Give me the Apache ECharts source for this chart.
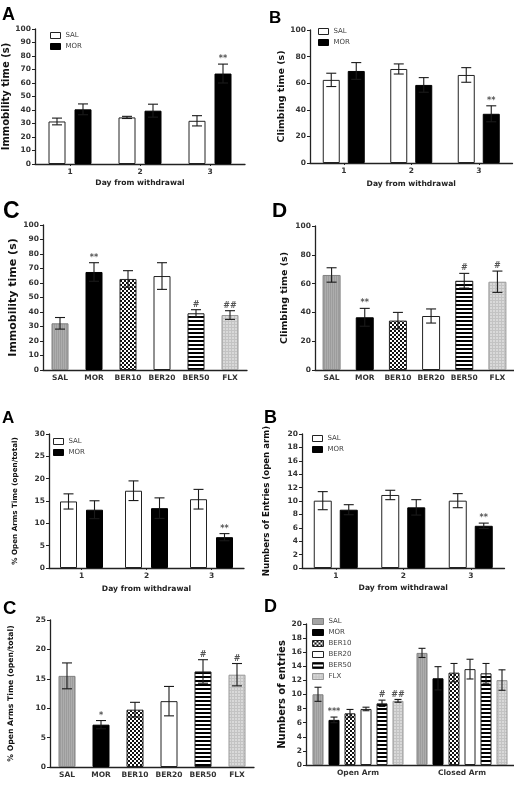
<!DOCTYPE html>
<html><head><meta charset="utf-8">
<script src="https://cdn.jsdelivr.net/npm/echarts@6/dist/echarts.min.js"></script>
<style>html,body{margin:0;padding:0;background:#fff}#c{width:514px;height:792px}</style>
</head><body><div id="c"></div><script>
// ---------- data ----------
const days = ['1', '2', '3'];
const drugGroups = ['SAL', 'MOR', 'BER10', 'BER20', 'BER50', 'FLX'];
const arms = ['Open Arm', 'Closed Arm'];

const fstImmSalMean = [31.5, 34.5, 32];
const fstImmSalErr = [2.5, 0.8, 3.8];
const fstImmMorMean = [40.5, 39.5, 67];
const fstImmMorErr = [4, 4.8, 7];
const fstImmMorSig = ['', '', '**'];

const fstClimbSalMean = [62.5, 70.7, 66.2];
const fstClimbSalErr = [5, 3.8, 5.5];
const fstClimbMorMean = [69.2, 58.7, 37];
const fstClimbMorErr = [6.3, 5.5, 6];
const fstClimbMorSig = ['', '', '**'];

const treatImmMean = [32.2, 67.6, 62.8, 64.8, 39.1, 37.9];
const treatImmErr = [4, 6.4, 5.7, 9.2, 2.5, 3];
const treatImmSig = ['', '**', '', '', '#', '##'];

const treatClimbMean = [66, 36.6, 34.3, 37.5, 62, 61.3];
const treatClimbErr = [5, 6.2, 5.7, 4.9, 5.1, 7.4];
const treatClimbSig = ['', '**', '', '', '#', '#'];

const epmTimeSalMean = [14.9, 17.3, 15.4];
const epmTimeSalErr = [1.7, 2.2, 2.2];
const epmTimeMorMean = [13.05, 13.4, 6.9];
const epmTimeMorErr = [2, 2.3, 0.8];
const epmTimeMorSig = ['', '', '**'];

const epmEntrySalMean = [10.05, 10.9, 10.05];
const epmEntrySalErr = [1.35, 0.7, 1.05];
const epmEntryMorMean = [8.7, 9.05, 6.3];
const epmEntryMorErr = [0.75, 1.15, 0.4];
const epmEntryMorSig = ['', '', '**'];

const treatOpenTimeMean = [15.5, 7.2, 9.75, 11.2, 16.25, 15.7];
const treatOpenTimeErr = [2.2, 0.7, 1.25, 2.5, 2, 1.9];
const treatOpenTimeSig = ['', '*', '', '', '#', '#'];

const entriesOpenMean = [10.03, 6.4, 7.33, 7.95, 8.75, 9.1];
const entriesOpenErr = [1.0, 0.4, 0.55, 0.25, 0.45, 0.2];
const entriesOpenSig = ['', '***', '', '', '#', '##'];
const entriesClosedMean = [15.9, 12.3, 13.1, 13.6, 13.0, 12.05];
const entriesClosedErr = [0.65, 1.65, 1.3, 1.4, 1.4, 1.45];

// ---------- styles ----------
const FONT = 'DejaVu Sans';
function pat(w, h, draw) {
  const c = document.createElement('canvas'); c.width = w; c.height = h;
  draw(c.getContext('2d')); return { image: c, repeat: 'repeat' };
}
const salFill = pat(2, 2, g => { g.fillStyle = '#adadad'; g.fillRect(0, 0, 2, 2); g.fillStyle = '#9c9c9c'; g.fillRect(0, 0, 1, 2); });
const ber10Fill = pat(4, 4, g => { g.fillStyle = '#fff'; g.fillRect(0, 0, 4, 4); g.fillStyle = '#111'; g.fillRect(0, 0, 2, 2); g.fillRect(2, 2, 2, 2); });
const ber50Fill = pat(4, 4, g => { g.fillStyle = '#fff'; g.fillRect(0, 0, 4, 4); g.fillStyle = '#000'; g.fillRect(0, 0, 4, 2); });
const flxFill = pat(3, 3, g => { g.fillStyle = '#d9d9d9'; g.fillRect(0, 0, 3, 3); g.fillStyle = '#c3c3c3'; g.fillRect(0, 0, 3, 1); g.fillRect(0, 0, 1, 3); });
const drugStyles = [
  { color: salFill, borderColor: '#808080', borderWidth: 1 },
  { color: '#000', borderColor: '#000', borderWidth: 1 },
  { color: ber10Fill, borderColor: '#222', borderWidth: 1 },
  { color: '#fff', borderColor: '#222', borderWidth: 1 },
  { color: ber50Fill, borderColor: '#222', borderWidth: 1 },
  { color: flxFill, borderColor: '#999', borderWidth: 1 }
];
const salDayStyle = { color: '#fff', borderColor: '#222', borderWidth: 1 };
const morDayStyle = { color: '#000', borderColor: '#000', borderWidth: 1 };

// ---------- layout ----------
const grids = [
  { left: 35, top: 29, width: 210, height: 135 },     // 0 A
  { left: 310, top: 30, width: 202.5, height: 133 },  // 1 B
  { left: 43, top: 225, width: 204, height: 145 },    // 2 C
  { left: 315, top: 226, width: 200, height: 144 },   // 3 D
  { left: 49, top: 434, width: 195, height: 134 },    // 4 A2
  { left: 302, top: 434, width: 202.5, height: 134 }, // 5 B2
  { left: 50, top: 620, width: 204, height: 147 },    // 6 C2
  { left: 306, top: 624, width: 208, height: 141 }    // 7 D2
];

function yAx(gi, max, interval, name, nameSize, nameGap) {
  return {
    type: 'value', gridIndex: gi, min: 0, max: max, interval: interval,
    name: name, nameLocation: 'middle', nameRotate: 90, nameGap: nameGap,
    nameTextStyle: { fontFamily: FONT, fontWeight: 'bold', fontSize: nameSize, color: '#111' },
    axisLine: { show: true, lineStyle: { color: '#222', width: 1.3 } },
    axisTick: { show: true, length: 3, lineStyle: { color: '#222', width: 1 } },
    axisLabel: { fontFamily: FONT, fontWeight: 'bold', fontSize: 7.5, color: '#333', margin: 4 },
    splitLine: { show: false }
  };
}
function xAx(gi, cats, name, nameGap, ticks) {
  return {
    type: 'category', gridIndex: gi, data: cats,
    name: name || '', nameLocation: 'middle', nameGap: nameGap || 0,
    nameTextStyle: { fontFamily: FONT, fontWeight: 'bold', fontSize: 7.6, color: '#222' },
    axisLine: { show: true, lineStyle: { color: '#222', width: 1.3 } },
    axisTick: { show: !!ticks, length: 2, alignWithLabel: true, lineStyle: { color: '#222' } },
    axisLabel: { fontFamily: FONT, fontWeight: 'bold', fontSize: 7.5, color: '#333', margin: 4, interval: 0 },
    splitLine: { show: false }
  };
}

function errSeries(gi, means, errs, sigs, offset, cap) {
  return {
    type: 'custom', xAxisIndex: gi, yAxisIndex: gi, z: 5, silent: true,
    data: means.map((m, i) => [i, m, errs[i]]),
    encode: { x: 0, y: 1 },
    renderItem: function (params, api) {
      const i = api.value(0), m = api.value(1), e = api.value(2);
      const hi = api.coord([i, m + e]), lo = api.coord([i, m - e]);
      const x = hi[0] + offset;
      const ls = { stroke: '#1a1a1a', lineWidth: 1.1 };
      const children = [
        { type: 'line', shape: { x1: x, y1: hi[1], x2: x, y2: lo[1] }, style: ls },
        { type: 'line', shape: { x1: x - cap, y1: hi[1], x2: x + cap, y2: hi[1] }, style: ls },
        { type: 'line', shape: { x1: x - cap, y1: lo[1], x2: x + cap, y2: lo[1] }, style: ls }
      ];
      const s = sigs ? sigs[params.dataIndex] : '';
      if (s) children.push({ type: 'text', style: { text: s, x: x, y: hi[1] - 1, textAlign: 'center', textVerticalAlign: 'bottom', fill: '#555', font: 'bold 8px "DejaVu Sans"' } });
      return { type: 'group', children: children };
    }
  };
}

function pairPanel(gi, prefix, salM, salE, morM, morE, morSig, bw, gap) {
  const off = (bw + gap) / 2;
  const bg = (gap / bw * 100) + '%';
  return [
    { type: 'bar', name: prefix + '|SAL', xAxisIndex: gi, yAxisIndex: gi, data: salM, barWidth: bw, barGap: bg, itemStyle: salDayStyle, silent: true },
    { type: 'bar', name: prefix + '|MOR', xAxisIndex: gi, yAxisIndex: gi, data: morM, barWidth: bw, barGap: bg, itemStyle: morDayStyle, silent: true },
    errSeries(gi, salM, salE, null, -off, 5),
    errSeries(gi, morM, morE, morSig, off, 5)
  ];
}
function drugPanel(gi, prefix, means, errs, sigs, bw) {
  return [
    { type: 'bar', name: prefix + '|all', xAxisIndex: gi, yAxisIndex: gi, barWidth: bw, silent: true,
      data: means.map((v, i) => ({ value: v, itemStyle: drugStyles[i] })) },
    errSeries(gi, means, errs, sigs, 0, 5)
  ];
}

let series = [];
series = series.concat(pairPanel(0, 'A', fstImmSalMean, fstImmSalErr, fstImmMorMean, fstImmMorErr, fstImmMorSig, 17, 9));
series = series.concat(pairPanel(1, 'B', fstClimbSalMean, fstClimbSalErr, fstClimbMorMean, fstClimbMorErr, fstClimbMorSig, 17, 8));
series = series.concat(drugPanel(2, 'C', treatImmMean, treatImmErr, treatImmSig, 17));
series = series.concat(drugPanel(3, 'D', treatClimbMean, treatClimbErr, treatClimbSig, 18));
series = series.concat(pairPanel(4, 'A2', epmTimeSalMean, epmTimeSalErr, epmTimeMorMean, epmTimeMorErr, epmTimeMorSig, 17, 9));
series = series.concat(pairPanel(5, 'B2', epmEntrySalMean, epmEntrySalErr, epmEntryMorMean, epmEntryMorErr, epmEntryMorSig, 18, 8));
series = series.concat(drugPanel(6, 'C2', treatOpenTimeMean, treatOpenTimeErr, treatOpenTimeSig, 17));
// D2 grouped
const d2bw = 11, d2gap = 5;
drugGroups.forEach((g, k) => {
  const m = [entriesOpenMean[k], entriesClosedMean[k]];
  const e = [entriesOpenErr[k], entriesClosedErr[k]];
  const s = [entriesOpenSig[k], ''];
  series.push({ type: 'bar', name: 'D2|' + g, xAxisIndex: 7, yAxisIndex: 7, data: m, barWidth: d2bw, barGap: (d2gap / d2bw * 100) + '%', itemStyle: drugStyles[k], silent: true });
  series.push(errSeries(7, m, e, s, (k - 2.5) * (d2bw + d2gap), 3.5));
});

function legendFor(prefix, names, styles, left, top) {
  return {
    orient: 'vertical', left: left, top: top, padding: 0, itemWidth: 10, itemHeight: 6, itemGap: 4,
    selectedMode: false, icon: 'rect',
    textStyle: { fontFamily: FONT, fontSize: 7, color: '#444', lineHeight: 6, padding: [0, 0, 0, 0] },
    formatter: n => n.split('|')[1],
    data: names.map((n, i) => ({ name: prefix + '|' + n, itemStyle: styles[i] }))
  };
}
const pairStyles = [salDayStyle, morDayStyle];
const legends = [
  legendFor('A', ['SAL', 'MOR'], pairStyles, 50, 32),
  legendFor('B', ['SAL', 'MOR'], pairStyles, 318, 28),
  legendFor('A2', ['SAL', 'MOR'], pairStyles, 53, 438),
  legendFor('B2', ['SAL', 'MOR'], pairStyles, 312, 435),
  legendFor('D2', drugGroups, drugStyles, 312, 618)
];
legends[4].itemWidth = 11;

function letter(t, left, top, fs) {
  return { text: t, left: left, top: top, padding: 0, textStyle: { fontFamily: 'Liberation Sans', fontWeight: 'bold', fontSize: fs, color: '#000' } };
}

const option = {
  animation: false,
  backgroundColor: '#fff',
  title: [
    letter('A', 2, 6.5, 18), letter('B', 269, 9.5, 17), letter('C', 3, 200, 23), letter('D', 272, 201, 21),
    letter('A', 2, 409.5, 17), letter('B', 264, 409.5, 18), letter('C', 3, 599, 18.5), letter('D', 264, 598.5, 18)
  ],
  legend: legends,
  grid: grids,
  xAxis: [
    xAx(0, days, 'Day from withdrawal', 15, true),
    xAx(1, days, 'Day from withdrawal', 17.5, true),
    xAx(2, drugGroups),
    xAx(3, drugGroups),
    xAx(4, days, 'Day from withdrawal', 17, true),
    xAx(5, days, 'Day from withdrawal', 16, true),
    xAx(6, drugGroups),
    xAx(7, arms)
  ],
  yAxis: [
    yAx(0, 100, 10, 'Immobility time (s)', 10, 20),
    yAx(1, 100, 20, 'Climbing time (s)', 9.5, 20),
    yAx(2, 100, 10, 'Immobility time (s)', 11, 24.5),
    yAx(3, 100, 20, 'Climbing time (s)', 9.5, 25),
    yAx(4, 30, 5, '% Open Arms Time (open/total)', 7.2, 30),
    yAx(5, 20, 2, 'Numbers of Entries (open arm)', 8.6, 30.5),
    yAx(6, 25, 5, '% Open Arms Time (open/total)', 7.7, 35),
    yAx(7, 20, 2, 'Numbers of entries', 10, 19)
  ],
  series: series
};
const chart = echarts.init(document.getElementById('c'), null, { renderer: 'canvas' });
chart.setOption(option);
</script></body></html>
